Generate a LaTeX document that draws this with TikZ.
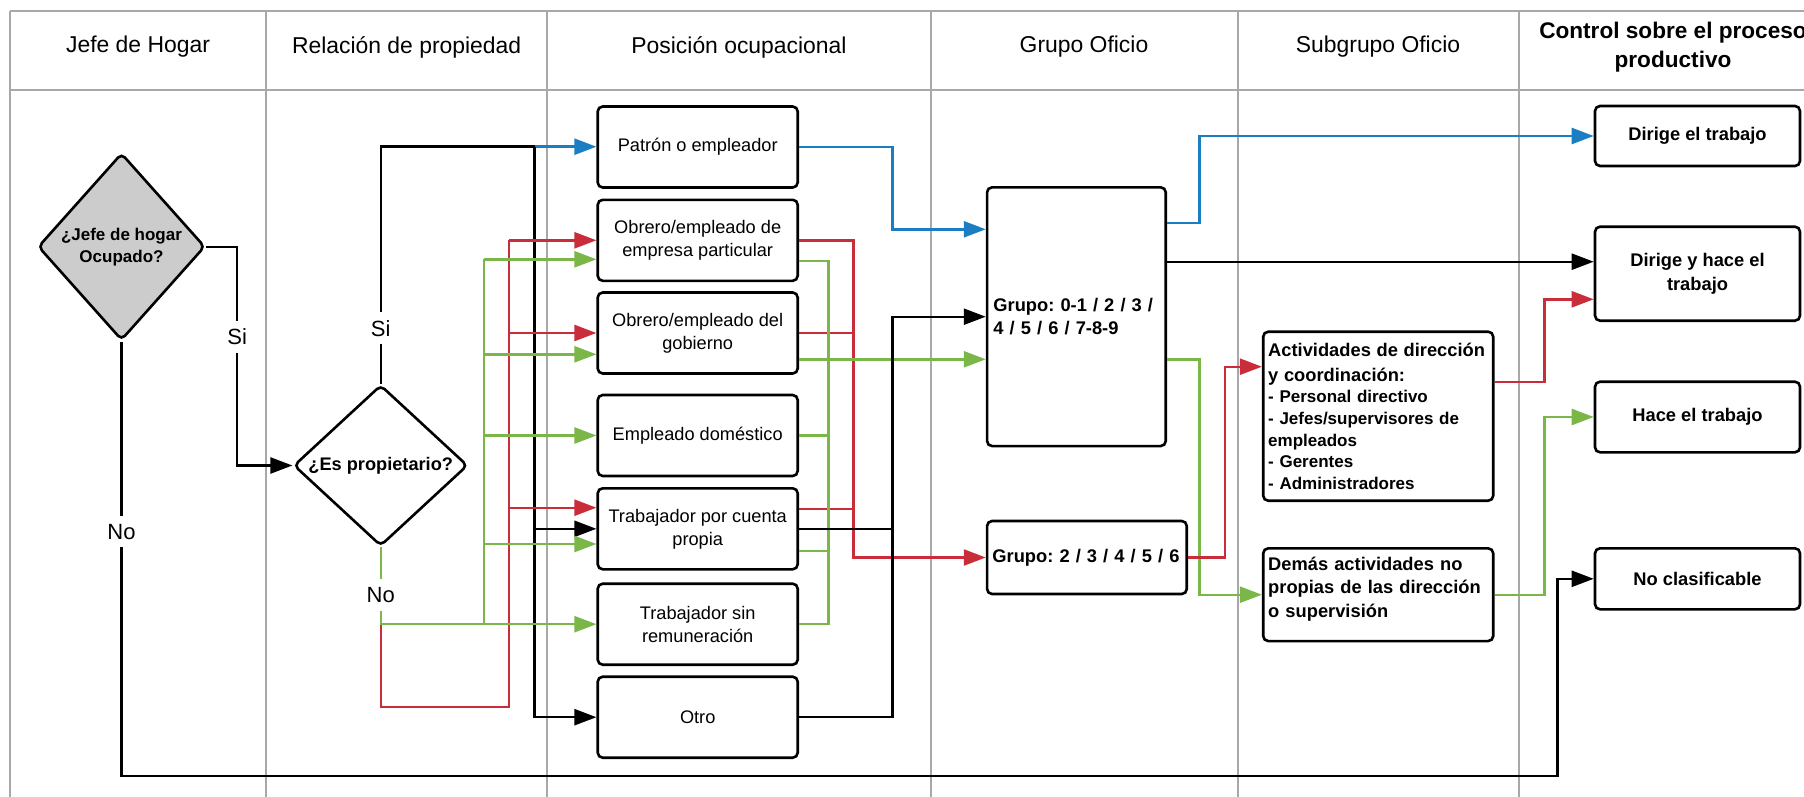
\documentclass[tikz,border=0pt]{standalone}
\usepackage{fontspec}
\setmainfont{Liberation Sans}
\usetikzlibrary{arrows.meta,shapes.geometric}
\frenchspacing
\definecolor{cblue}{HTML}{1B7EC2}
\definecolor{cred}{HTML}{C92D39}
\definecolor{cgreen}{HTML}{7AB648}
\definecolor{gridgray}{HTML}{A8A8A8}
\definecolor{diamgray}{HTML}{CCCCCC}
\tikzset{
  gridline/.style={draw=gridgray, line width=2.2pt},
  hdr/.style={font=\fontsize{22.9}{27}\selectfont, inner sep=0pt},
  hdrb/.style={font=\bfseries\fontsize{22.6}{29}\selectfont, align=center, inner sep=0pt},
  posbox/.style={draw, line width=2.6pt, rounded corners=5pt, fill=white, minimum width=200pt, minimum height=81pt, inner sep=0pt, align=center, font=\fontsize{18.2}{23}\selectfont},
  boldbox/.style={draw, line width=2.6pt, rounded corners=5pt, fill=white, inner sep=0pt, font=\bfseries\fontsize{18.3}{23.3}\selectfont},
  ctrlbox/.style={boldbox, minimum width=205pt, align=center},
  diam/.style={diamond, draw, line width=2.6pt, rounded corners=5pt, inner sep=0pt, align=center},
  conn/.style={line width=2.4pt},
  arr/.style={conn, -{Triangle[length=22pt,width=16pt]}},
  lbl/.style={fill=white, inner xsep=2pt, inner ysep=8pt, font=\fontsize{22}{26}\selectfont},
}
\begin{document}
\begin{tikzpicture}[x=1pt,y=-1pt]
\frenchspacing
\useasboundingbox (0,0) rectangle (1804,797);
\fill[white] (0,0) rectangle (1804,797);
% table grid
\draw[gridline] (10,11) -- (1810,11);
\draw[gridline] (10,90) -- (1810,90);
\foreach \x in {10,266,547.3,930.7,1237.6,1519} \draw[gridline] (\x,11) -- (\x,800);
% headers
\node[hdr] (h1) at (138,47) {Jefe de Hogar};
\node[hdr] (h2) at (406.6,47) {Relación de propiedad};
\node[hdr] (h3) at (739,47) {Posición ocupacional};
\node[hdr] (h4) at (1084,47) {Grupo Oficio};
\node[hdr] (h5) at (1378,47) {Subgrupo Oficio};
\node[hdrb] (h6) at (1673,47.5) {Control sobre el proceso\\productivo};
% diamonds
\node[diam, fill=diamgray, minimum width=167pt, minimum height=187pt, font=\bfseries\fontsize{17}{22}\selectfont] (d1) at (121.5,246.7) {¿Jefe de hogar\\Ocupado?};
\node[diam, fill=white, shape aspect=1.2, minimum width=174pt, minimum height=161pt, font=\bfseries\fontsize{18.2}{22}\selectfont] (d2) at (380.7,465.5) {¿Es propietario?};
% posicion boxes
\node[posbox] (patron) at (697.7,147) {Patrón o empleador};
\node[posbox] (oemp) at (697.7,240.3) {Obrero/empleado de\\empresa particular};
\node[posbox] (ogob) at (697.7,333) {Obrero/empleado del\\gobierno};
\node[posbox] (edom) at (697.7,435.5) {Empleado doméstico};
\node[posbox] (tcp) at (697.7,528.8) {Trabajador por cuenta\\propia};
\node[posbox] (tsr) at (697.7,624.2) {Trabajador sin\\remuneración};
\node[posbox] (otro) at (697.7,717.2) {Otro};
% grupo boxes
\node[boldbox, minimum width=178.7pt, minimum height=258.7pt, text width=166pt, align=left] (gA) at (1076.4,316.7) {Grupo: 0-1 / 2 / 3 /\\4 / 5 / 6 / 7-8-9};
\node[boldbox, minimum width=199.7pt, minimum height=73pt, text width=189pt, align=left] (gB) at (1086.9,557.5) {Grupo: 2 / 3 / 4 / 5 / 6};
% subgrupo boxes
\node[boldbox, minimum width=230pt, minimum height=169pt, text width=220pt, align=left, font=\bfseries\fontsize{17}{21.6}\selectfont] (sA) at (1378.2,416.2) {{\fontsize{18.3}{21.6}\selectfont Actividades de dirección}\\[3.4pt]{\fontsize{18.3}{21.6}\selectfont y coordinación:}\\- Personal directivo\\- Jefes/supervisores de\\empleados\\- Gerentes\\- Administradores};
\node[boldbox, minimum width=230pt, minimum height=92.7pt] (sB) at (1378.2,594.7) {};
\node[text width=220pt, align=left, inner sep=0pt, font=\bfseries\fontsize{18.3}{23.5}\selectfont] (sBt) at ([yshift=6pt]sB.center) {Demás actividades no\\propias de las dirección\\o supervisión};
% control boxes
\node[ctrlbox, minimum height=60pt] (c1) at (1697.5,136) {Dirige el trabajo};
\node[ctrlbox, minimum height=94pt] (c2) at (1697.5,273.7) {Dirige y hace el\\trabajo};
\node[ctrlbox, minimum height=70.6pt] (c3) at (1697.5,417) {Hace el trabajo};
\node[ctrlbox, minimum height=61pt] (c4) at (1697.5,578.8) {No clasificable};
% bus coordinates
\coordinate (sbus) at (237.2,0);
\coordinate (gbus) at (484,0);
\coordinate (rbus) at (509,0);
\coordinate (kbus) at (534.6,146.7);
\coordinate (gbus2) at (828.3,0);
\coordinate (rbus2) at (853.3,0);
\coordinate (kbus2) at (892.3,0);
\coordinate (gbus3) at (1199.3,0);
\coordinate (rbus3) at (1225,0);
\coordinate (xbus) at (1544.3,0);
\coordinate (nbus) at (1557.3,0);
% jefe de hogar
\draw[arr] (d1.east) -| (sbus |- 0,400) |- (d2.west);
\draw[arr] (d1.south) |- (nbus |- 0,775.7) |- (c4.west);
% es propietario: si
\draw[conn] (d2.north) |- (kbus);
\draw[arr,cblue] (kbus) -- (kbus -| patron.west);
\draw[arr] (kbus) |- (otro.west);
\draw[arr] (kbus |- tcp.west) -- (tcp.west);
% es propietario: no (red)
\draw[conn,cred] (d2.south) |- (rbus |- 0,706.7) -- (rbus |- 0,240);
\draw[arr,cred] (rbus |- oemp.west) -- (oemp.west);
\draw[arr,cred] (rbus |- ogob.west) -- (ogob.west);
\draw[arr,cred] (rbus |- 0,507.7) -- (tcp.west |- 0,507.7);
% es propietario: no (green)
\draw[arr,cgreen] (d2.south) |- (tsr.west);
\draw[conn,cgreen] (gbus |- tsr.west) -- (gbus |- 0,259.3);
\draw[arr,cgreen] (gbus |- 0,259.3) -- (oemp.west |- 0,259.3);
\draw[arr,cgreen] (gbus |- 0,354.3) -- (ogob.west |- 0,354.3);
\draw[arr,cgreen] (gbus |- edom.west) -- (edom.west);
\draw[arr,cgreen] (gbus |- 0,544) -- (tcp.west |- 0,544);
% posicion -> grupo
\draw[arr,cblue] (patron.east) -| (kbus2 |- 0,229.3) -- (gA.west |- 0,229.3);
\draw[arr,cred] (oemp.east) -| (rbus2 |- gB.west) -- (gB.west);
\draw[conn,cred] (ogob.east) -- (rbus2 |- ogob.east);
\draw[conn,cred] (tcp.east |- 0,509) -- (rbus2 |- 0,509);
\draw[conn,cgreen] (oemp.east |- 0,261) -| (gbus2 |- tsr.east) -- (tsr.east);
\draw[arr,cgreen] (ogob.east |- 0,359.3) -- (gA.west |- 0,359.3);
\draw[conn,cgreen] (edom.east) -- (gbus2 |- edom.east);
\draw[conn,cgreen] (tcp.east |- 0,550.7) -- (gbus2 |- 0,550.7);
\draw[arr] (otro.east) -| (kbus2 |- gA.west) -- (gA.west);
\draw[conn] (tcp.east) -- (kbus2 |- tcp.east);
% grupo -> subgrupo / control
\draw[arr,cblue] (gA.east |- 0,222.7) -| (gbus3 |- c1.west) -- (c1.west);
\draw[arr] (gA.east |- 0,261.7) -- (c2.west |- 0,261.7);
\draw[arr,cgreen] (gA.east |- 0,359.3) -| (gbus3 |- sB.west) -- (sB.west);
\draw[arr,cred] (gB.east) -| (rbus3 |- 0,366.7) -- (sA.west |- 0,366.7);
\draw[arr,cred] (sA.east |- 0,381.7) -| (xbus |- 0,299.3) -- (c2.west |- 0,299.3);
\draw[arr,cgreen] (sB.east) -| (xbus |- c3.west) -- (c3.west);
% labels
\node[lbl] (si1) at (sbus |- 0,336.7) {Si};
\node[lbl] (no1) at (d1.south |- 0,531.7) {No};
\node[lbl] (si2) at (d2.north |- 0,328.3) {Si};
\node[lbl] (no2) at (d2.south |- 0,595) {No};
\end{tikzpicture}
\end{document}
